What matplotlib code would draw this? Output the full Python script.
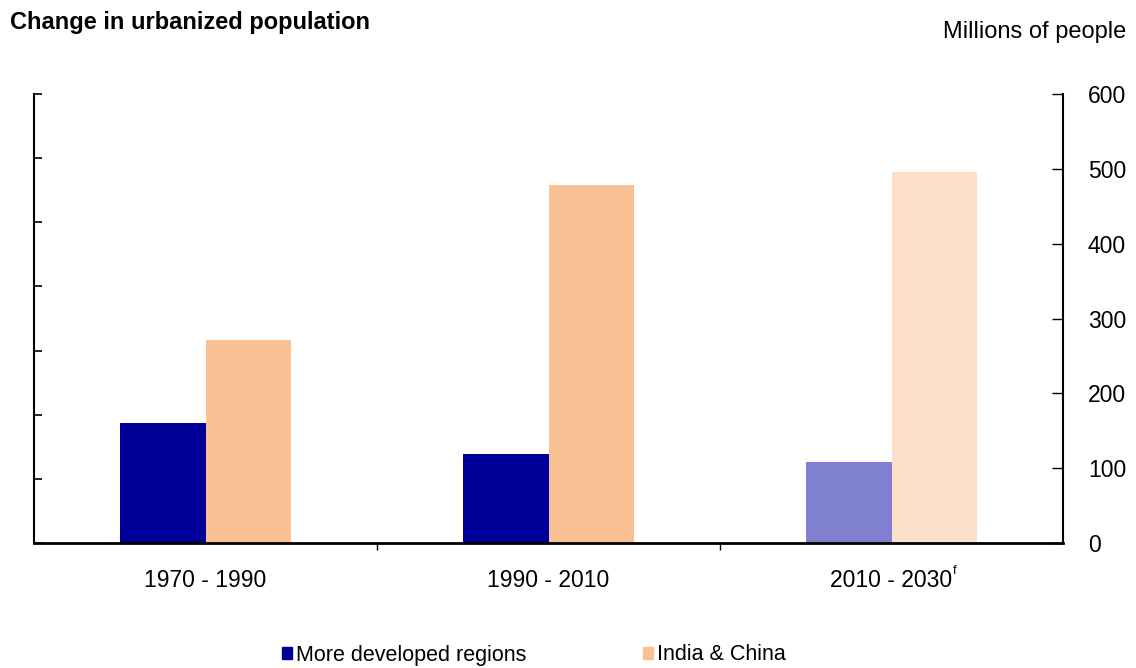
import matplotlib
matplotlib.use("Agg")
import matplotlib.pyplot as plt
import numpy as np
from matplotlib.patches import Patch

plt.rcParams['font.family'] = ['Liberation Sans', 'DejaVu Sans']

categories = ["1970 - 1990", "1990 - 2010", "2010 - 2030"]
developed = [160, 119, 108]
india_china = [271, 478, 496]
series_names = ["More developed regions", "India & China"]

blue = "#000099"
peach = "#F9C193"
blue_f = "#8080D0"
peach_f = "#FCDFC8"

FS = 16.5

fig = plt.figure(figsize=(11.36, 6.68), dpi=100)
ax = fig.add_axes([34/1136, 1-543/668, (1063-34)/1136, (543-94)/668])

x = np.arange(len(categories))
w = 0.25
for i in range(len(categories)):
    proj = (i == 2)
    ax.bar(x[i] - w/2, developed[i], w, color=blue_f if proj else blue,
           edgecolor='none', linewidth=0)
    ax.bar(x[i] + w/2, india_china[i], w, color=peach_f if proj else peach,
           edgecolor='none', linewidth=0)

ax.set_xlim(-0.5, 2.5)
ax.set_ylim(0, 600)

# left axis: ticks only, 7 divisions, pointing inward
ax.set_yticks(np.linspace(0, 600, 8))
ax.set_yticklabels([])
ax.tick_params(axis='y', direction='in', length=6, width=1.2, left=True, right=False)

ax.set_xticks([0.5, 1.5])
ax.set_xticklabels([])
ax.tick_params(axis='x', direction='out', length=5, width=1)
for i, c in enumerate(categories):
    ax.text(x[i], -50, c, ha='center', va='center', fontsize=FS)
ax.text(x[2] + 0.18, -37, "f", ha='left', va='center', fontsize=9)

ax.spines['top'].set_visible(False)
ax.spines['right'].set_visible(False)
ax.spines['left'].set_linewidth(1.5)
ax.spines['bottom'].set_linewidth(2)

ax2 = ax.twinx()
ax2.set_ylim(0, 600)
ax2.set_yticks(np.arange(0, 601, 100))
ax2.tick_params(axis='y', direction='in', length=8, width=1, pad=18, labelsize=FS)
for s in ['top', 'left', 'bottom']:
    ax2.spines[s].set_visible(False)
ax2.spines['right'].set_linewidth(1.5)

fig.text(10/1136, 1-22/668, "Change in urbanized population", fontsize=17,
         fontweight='bold', ha='left', va='center')
fig.text(1126/1136, 1-32/668, "Millions of people", fontsize=17,
         ha='right', va='center')

handles = [Patch(color=blue, label=series_names[0]), Patch(color=peach, label=series_names[1])]
leg = fig.legend(handles=handles, loc='center left', bbox_to_anchor=(282/1136, 1-655/668),
                 ncol=2, frameon=False, fontsize=15.5, handlelength=0.47,
                 handleheight=0.47, handletextpad=0.2, columnspacing=5.4,
                 borderpad=0, borderaxespad=0)

fig.savefig("out.png", dpi=100)
